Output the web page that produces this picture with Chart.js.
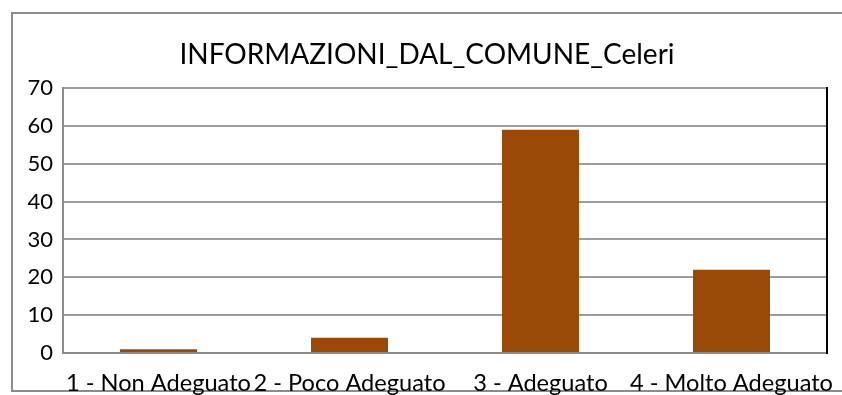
<!DOCTYPE html>
<html>
<head>
<meta charset="utf-8">
<script src="https://cdn.jsdelivr.net/npm/chart.js@4"></script>
<style>
  html, body { margin: 0; padding: 0; background: #fff; overflow: hidden; }
  #wrap { position: relative; width: 842px; height: 395px; }
  #frame { position: absolute; left: 11px; top: 12px; width: 900px; height: 376px; border: 2px solid #8c8c8c; }
  #myChart { position: absolute; left: 0; top: 0; }
</style>
</head>
<body>
<div id="wrap">
  <div id="frame"></div>
  <canvas id="myChart" width="842" height="395"></canvas>
</div>
<script>
const chartTitle = 'INFORMAZIONI_DAL_COMUNE_Celeri';
const categories = ['1 - Non Adeguato', '2 - Poco Adeguato', '3 - Adeguato', '4 - Molto Adeguato'];
const counts = [1, 4, 59, 22];
const yTicks = [0, 10, 20, 30, 40, 50, 60, 70];

const fontFamily = 'Lato, "Open Sans", sans-serif';

// black right edge of the plot area
const plotEdge = {
    id: 'plotEdge',
    afterDraw(chart) {
        const { ctx, chartArea } = chart;
        ctx.save();
        ctx.strokeStyle = '#000';
        ctx.lineWidth = 2;
        ctx.beginPath();
        ctx.moveTo(chartArea.right, chartArea.top - 1);
        ctx.lineTo(chartArea.right, chartArea.bottom + 1);
        ctx.stroke();
        ctx.restore();
    }
};

new Chart(document.getElementById('myChart').getContext('2d'), {
    type: 'bar',
    data: {
        labels: categories,
        datasets: [{
            data: counts,
            backgroundColor: '#9a4907',
            categoryPercentage: 1,
            barPercentage: 0.403
        }]
    },
    options: {
        responsive: false,
        animation: false,
        layout: { padding: { top: 0, right: 15, bottom: 0, left: 27 } },
        plugins: {
            legend: { display: false },
            tooltip: { enabled: false },
            title: {
                display: true,
                text: chartTitle,
                color: '#000',
                font: { family: fontFamily, size: 28, weight: 'normal', lineHeight: 1.2 },
                padding: { top: 38, bottom: 16.4 }
            }
        },
        scales: {
            x: {
                afterFit(scale) {
                    // long labels may run past the plot edges, as in the spreadsheet original
                    scale.height = 42;
                    scale.paddingLeft = 0;
                    scale.paddingRight = 0;
                },
                grid: { display: false, drawTicks: false },
                border: { color: '#8c8c8c', width: 2 },
                ticks: {
                    color: '#000',
                    font: { family: fontFamily, size: 23.6, lineHeight: 1.2 },
                    padding: 16,
                    maxRotation: 0,
                    autoSkip: false
                }
            },
            y: {
                min: 0,
                max: 70,
                afterBuildTicks(scale) {
                    scale.ticks = yTicks.map(v => ({ value: v }));
                },
                afterFit(scale) {
                    scale.width = 36;
                    scale.paddingTop = 0;
                    scale.paddingBottom = 0;
                },
                grid: { color: '#9c9c9c', lineWidth: 2, drawTicks: false },
                border: { color: '#8c8c8c', width: 2 },
                ticks: {
                    color: '#000',
                    font: { family: fontFamily, size: 22 },
                    padding: 10
                }
            }
        }
    },
    plugins: [plotEdge]
});
</script>
</body>
</html>
